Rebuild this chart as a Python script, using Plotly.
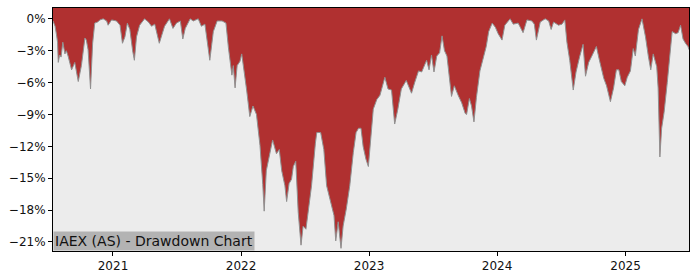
import plotly.graph_objects as go

dates = [
    "2020-07-14", "2020-07-16", "2020-07-20", "2020-07-24", "2020-07-27", "2020-07-29",
    "2020-08-02", "2020-08-06", "2020-08-11", "2020-08-17", "2020-08-21", "2020-08-26",
    "2020-08-31", "2020-09-05", "2020-09-09", "2020-09-14", "2020-09-24", "2020-09-29",
    "2020-10-03", "2020-10-13", "2020-10-17", "2020-10-22", "2020-10-29", "2020-11-04",
    "2020-11-10", "2020-11-18", "2020-11-25", "2020-12-04", "2020-12-14", "2020-12-18",
    "2020-12-28", "2021-01-11", "2021-01-21", "2021-01-28", "2021-02-04", "2021-02-11",
    "2021-02-18", "2021-02-26", "2021-03-03", "2021-03-09", "2021-03-18", "2021-04-01",
    "2021-04-12", "2021-04-21", "2021-04-30", "2021-05-13", "2021-05-19", "2021-05-28",
    "2021-06-11", "2021-06-21", "2021-07-01", "2021-07-12", "2021-07-19", "2021-07-26",
    "2021-08-09", "2021-08-18", "2021-09-01", "2021-09-10", "2021-09-20", "2021-09-27",
    "2021-10-04", "2021-10-14", "2021-10-25", "2021-11-08", "2021-11-19", "2021-11-26",
    "2021-12-01", "2021-12-06", "2021-12-10", "2021-12-15", "2021-12-21", "2021-12-29",
    "2022-01-03", "2022-01-10", "2022-01-17", "2022-01-26", "2022-02-04", "2022-02-14",
    "2022-02-24", "2022-03-04", "2022-03-08", "2022-03-14", "2022-03-24", "2022-04-01",
    "2022-04-12", "2022-04-20", "2022-04-27", "2022-05-06", "2022-05-11", "2022-05-18",
    "2022-05-25", "2022-05-30", "2022-06-06", "2022-06-13", "2022-06-21", "2022-06-27",
    "2022-07-05", "2022-07-11", "2022-07-21", "2022-08-01", "2022-08-05", "2022-08-16",
    "2022-08-25", "2022-09-02", "2022-09-09", "2022-09-16", "2022-09-23", "2022-09-28",
    "2022-10-05", "2022-10-13", "2022-10-19", "2022-10-28", "2022-11-07", "2022-11-17",
    "2022-11-25", "2022-12-02", "2022-12-09", "2022-12-15", "2022-12-23", "2022-12-30",
    "2023-01-05", "2023-01-13", "2023-01-23", "2023-02-01", "2023-02-15", "2023-02-24",
    "2023-03-06", "2023-03-15", "2023-03-24", "2023-04-03", "2023-04-17", "2023-05-02",
    "2023-05-11", "2023-05-22", "2023-05-31", "2023-06-14", "2023-06-21", "2023-06-28",
    "2023-07-05", "2023-07-13", "2023-07-21", "2023-07-28", "2023-08-04", "2023-08-11",
    "2023-08-24", "2023-09-01", "2023-09-12", "2023-09-22", "2023-10-02", "2023-10-06",
    "2023-10-14", "2023-10-20", "2023-10-27", "2023-11-03", "2023-11-13", "2023-11-22",
    "2023-12-01", "2023-12-08", "2023-12-18", "2023-12-27", "2024-01-04", "2024-01-15",
    "2024-01-23", "2024-02-07", "2024-02-16", "2024-03-01", "2024-03-15", "2024-03-26",
    "2024-04-09", "2024-04-16", "2024-04-22", "2024-05-03", "2024-05-17", "2024-05-27",
    "2024-06-03", "2024-06-10", "2024-06-24", "2024-07-04", "2024-07-12", "2024-07-18",
    "2024-07-26", "2024-08-05", "2024-08-13", "2024-08-23", "2024-09-02", "2024-09-09",
    "2024-09-18", "2024-09-27", "2024-10-10", "2024-10-18", "2024-10-31", "2024-11-08",
    "2024-11-19", "2024-11-28", "2024-12-06", "2024-12-13", "2024-12-20", "2024-12-30",
    "2025-01-06", "2025-01-15", "2025-01-23", "2025-01-29", "2025-02-03", "2025-02-07",
    "2025-02-17", "2025-02-27", "2025-03-07", "2025-03-14", "2025-03-21", "2025-03-31",
    "2025-04-04", "2025-04-09", "2025-04-14", "2025-04-21", "2025-04-30", "2025-05-10",
    "2025-05-14", "2025-05-24", "2025-05-31", "2025-06-07", "2025-06-14", "2025-06-21",
    "2025-06-28", "2025-07-01",
]

drawdown_pct = [
    -0.2, -0.4, -0.7, -1.5, -2.2, -4.1,
    -3.4, -3.6, -2.2, -3.3, -3.0, -3.5,
    -4.1, -4.8, -4.5, -4.1, -5.9, -5.0,
    -4.4, -1.8, -2.0, -2.9, -6.6, -2.3,
    -0.4, -0.3, -0.1, 0.0, -0.2, -0.6,
    -0.1, -0.2, -0.6, -2.3, -1.7, -0.4,
    -1.0, -3.0, -3.9, -1.7, -0.6, 0.0,
    -0.3, -0.7, -0.5, -2.3, -1.7, -0.7,
    0.0, -0.9, -0.4, -0.2, -1.9, -0.9,
    0.0, -0.2, 0.0, -0.7, -0.5, -2.3,
    -3.9, -1.2, -0.2, -0.2, -0.4, -2.7,
    -4.2, -5.3, -4.4, -6.5, -4.4, -4.0,
    -3.3, -4.8, -6.7, -9.2, -8.2, -9.0,
    -11.9, -15.6, -18.1, -14.3, -12.6, -11.4,
    -12.7, -12.3, -14.3, -15.7, -17.2, -15.5,
    -15.1, -13.9, -13.4, -18.2, -21.3, -19.5,
    -19.8, -18.2, -15.7, -11.7, -10.7, -10.7,
    -12.3, -15.7, -16.7, -17.6, -18.5, -20.9,
    -19.1, -21.6, -19.5, -17.9, -15.7, -12.6,
    -10.7, -10.3, -10.3, -12.0, -13.2, -13.9,
    -11.4, -8.5, -7.6, -7.2, -5.5, -6.6,
    -6.7, -9.9, -8.5, -6.6, -5.8, -7.0,
    -6.0, -4.9, -5.0, -3.9, -4.8, -3.4,
    -5.0, -3.5, -3.2, -1.6, -3.0, -3.5,
    -7.3, -6.3, -7.2, -7.9, -8.9, -9.0,
    -7.5, -8.2, -9.7, -7.4, -4.9, -3.6,
    -2.6, -1.2, -0.4, -0.8, -1.4, -2.0,
    -0.6, 0.0, -0.5, -0.4, -1.3, -0.1,
    -0.2, -0.5, -2.0, -0.3, 0.0, -0.2,
    -1.0, -0.3, -0.6, -0.5, -0.1, -2.2,
    -3.9, -6.7, -5.0, -3.6, -2.4, -5.4,
    -4.1, -3.5, -2.6, -3.8, -5.6, -6.3,
    -7.8, -6.5, -4.8, -4.8, -5.9, -6.3,
    -5.5, -4.9, -2.8, -3.5, -2.2, -1.0,
    0.0, -1.7, -3.5, -4.8, -3.3, -4.5,
    -6.5, -13.0, -10.3, -8.8, -6.0, -2.5,
    -1.2, -1.4, -1.3, -0.6, -1.9, -2.3,
    -2.6, -2.9,
]

y_tick_vals = [0, -3, -6, -9, -12, -15, -18, -21]
y_tick_text = ["0%", "\u22123%", "\u22126%", "\u22129%", "\u221212%", "\u221215%", "\u221218%", "\u221221%"]
x_tick_vals = ["2021-01-01", "2022-01-01", "2023-01-01", "2024-01-01", "2025-01-01"]
x_tick_text = ["2021", "2022", "2023", "2024", "2025"]

title_text = "IAEX (AS) - Drawdown Chart"

Y_RANGE = [-21.85, 1.02]
X_RANGE = [dates[0], dates[-1]]

FILL = "#b03030"
BG = "#ececec"

fig = go.Figure()
# upper boundary of the fill: top edge of the axis range
fig.add_trace(go.Scatter(
    x=dates, y=[Y_RANGE[1]] * len(dates), mode="lines",
    line=dict(width=0, color=FILL), hoverinfo="skip", showlegend=False,
))
fig.add_trace(go.Scatter(
    x=dates, y=drawdown_pct, mode="lines",
    line=dict(width=1, color="#909090"),
    fill="tonexty", fillcolor=FILL, showlegend=False,
))

axis_common = dict(
    showline=True, linecolor="black", linewidth=1, mirror=True,
    ticks="outside", ticklen=4, tickwidth=1, tickcolor="black",
    showgrid=False, zeroline=False,
    tickfont=dict(family="DejaVu Sans", size=12, color="#111"),
)

fig.update_xaxes(range=X_RANGE, tickvals=x_tick_vals, ticktext=x_tick_text, **axis_common)
fig.update_yaxes(range=Y_RANGE, tickvals=y_tick_vals, ticktext=y_tick_text, **axis_common)

fig.add_annotation(
    text=title_text, xref="x domain", yref="y domain", x=0, y=0,
    xanchor="left", yanchor="bottom", showarrow=False,
    bgcolor="#b3b3b3", borderpad=1,
    font=dict(family="DejaVu Sans", size=14, color="#111"),
)

fig.update_layout(
    width=700, height=280,
    margin=dict(l=53, r=11, t=7, b=28),
    plot_bgcolor=BG, paper_bgcolor="white",
    showlegend=False,
)

fig.write_html("out.html")
